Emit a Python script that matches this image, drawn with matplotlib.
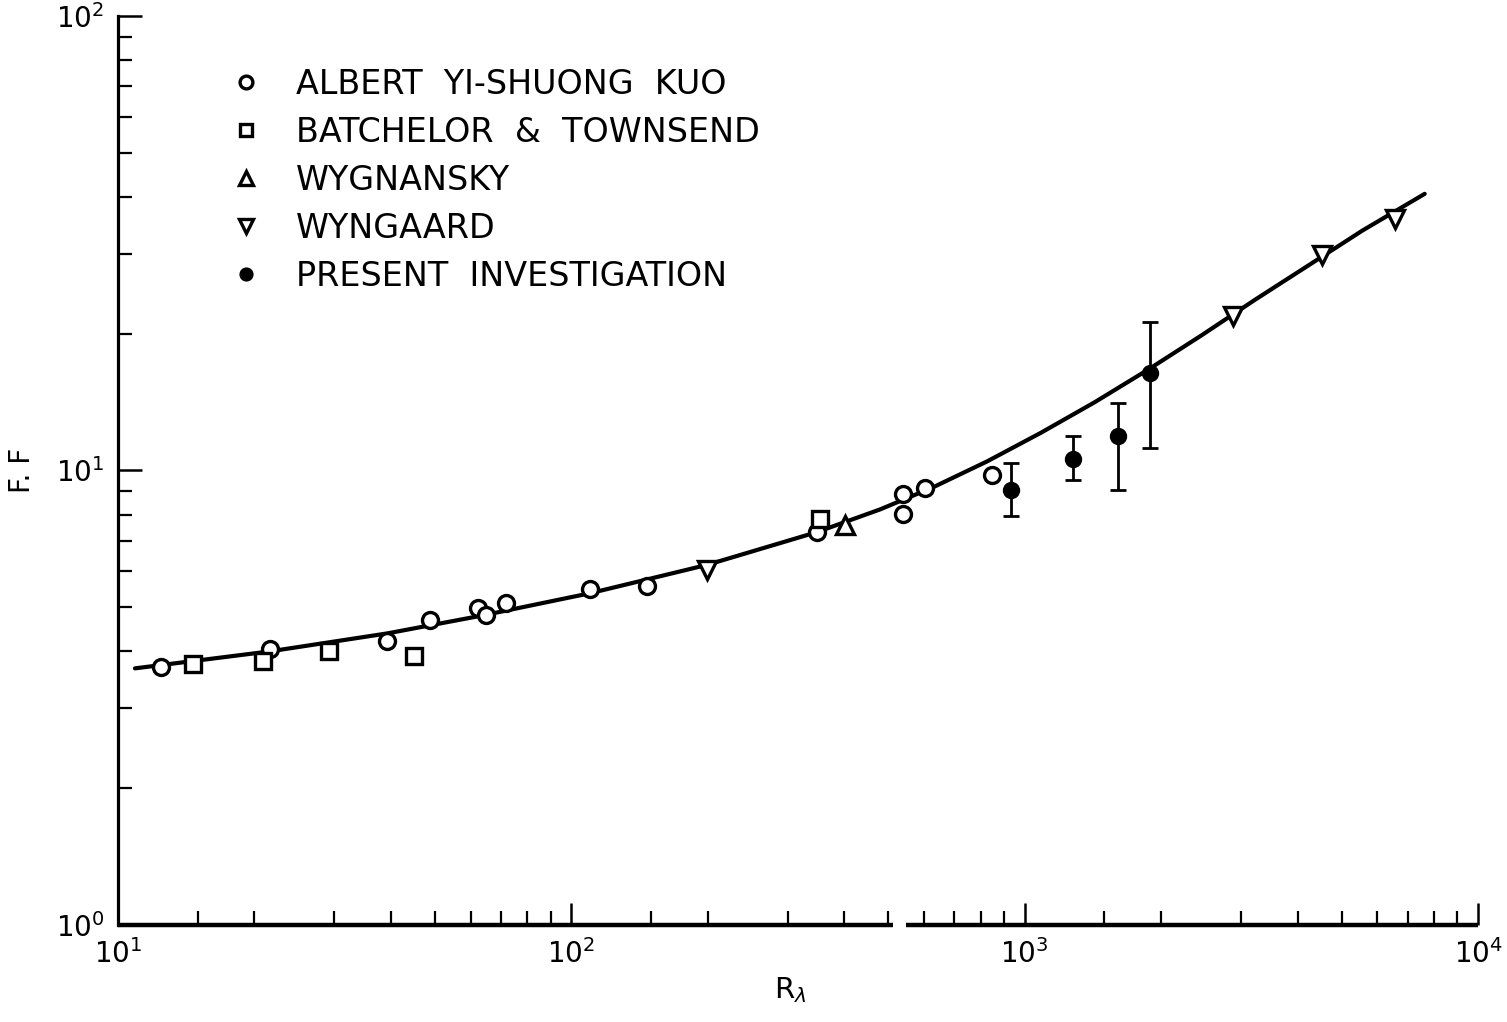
import matplotlib
matplotlib.use("Agg")
import matplotlib.pyplot as plt
from matplotlib.ticker import LogLocator, NullFormatter

# ---------------- data ----------------
kuo_x = [12.42, 21.64, 39.28, 48.79, 62.17, 64.85, 71.77, 110.0, 146.6, 347.8, 540, 540, 603, 846]
kuo_y = [3.70, 4.04, 4.21, 4.70, 4.98, 4.80, 5.11, 5.50, 5.56, 7.32, 8.89, 8.03, 9.16, 9.75]

bt_x = [14.62, 20.92, 29.25, 45.04, 353.7]
bt_y = [3.76, 3.80, 4.01, 3.90, 7.83]

wygnansky_x = [401.6]
wygnansky_y = [7.57]

wyngaard_x = [198.9, 2886, 4523, 6561]
wyngaard_y = [6.03, 21.91, 29.84, 35.74]

present_x = [931.7, 1281, 1609, 1890]
present_y = [9.04, 10.61, 11.88, 16.36]
present_lo = [7.96, 9.54, 9.07, 11.19]
present_hi = [10.38, 11.88, 14.09, 21.18]

curve_x = [10.90, 21.64, 39.22, 63.86, 110.0, 199.3, 348.3, 479.7, 630.1, 826.0,
           1085, 1425, 1872, 2455, 3224, 4232, 5551, 7628]
curve_y = [3.67, 4.00, 4.38, 4.80, 5.37, 6.20, 7.32, 8.21, 9.20, 10.47,
           12.10, 14.12, 16.67, 19.83, 23.76, 28.29, 33.69, 40.62]

labels = ["ALBERT  YI-SHUONG  KUO", "BATCHELOR  &  TOWNSEND", "WYGNANSKY",
          "WYNGAARD", "PRESENT  INVESTIGATION"]

x_limits = (10, 10000)
y_limits = (1, 100)
axis_gap = (512, 548)   # break in the bottom axis line

# ---------------- figure ----------------
plt.rcParams['font.family'] = ['DejaVu Sans']
plt.rcParams['mathtext.fontset'] = 'dejavusans'

W, H = 1507, 1022
L, R, B, T = 118, 1478, 925, 16
fig = plt.figure(figsize=(W / 100, H / 100), dpi=100)
ax = fig.add_axes([L / W, 1 - B / H, (R - L) / W, (B - T) / H])
ax.set_xscale('log')
ax.set_yscale('log')
ax.set_xlim(*x_limits)
ax.set_ylim(*y_limits)

ax.plot(curve_x, curve_y, color='black', lw=3.0, zorder=2,
        solid_capstyle='round', solid_joinstyle='round')

ms = 11.5
mew = 2.4
h1, = ax.plot(kuo_x, kuo_y, 'o', ms=ms, mfc='white', mec='black', mew=mew, ls='none', zorder=3)
h2, = ax.plot(bt_x, bt_y, 's', ms=ms - 0.5, mfc='white', mec='black', mew=mew, ls='none', zorder=3)
h3, = ax.plot(wygnansky_x, wygnansky_y, '^', ms=ms + 1.5, mfc='white', mec='black', mew=mew, ls='none', zorder=3)
h4, = ax.plot(wyngaard_x, wyngaard_y, 'v', ms=ms + 1.5, mfc='white', mec='black', mew=mew, ls='none', zorder=3)

yerr = [[p - l for p, l in zip(present_y, present_lo)],
        [h - p for p, h in zip(present_y, present_hi)]]
ax.errorbar(present_x, present_y, yerr=yerr, fmt='none', ecolor='black',
            elinewidth=2.0, capsize=6, capthick=2.0, zorder=3)
h5, = ax.plot(present_x, present_y, 'o', ms=ms, mfc='black', mec='black', ls='none', zorder=4)

leg = ax.legend([h1, h2, h3, h4, h5], labels, loc='upper left',
                bbox_to_anchor=(231 / W, 1 - 68 / H), bbox_transform=fig.transFigure,
                frameon=False, fontsize=24, handlelength=0.9, handletextpad=1.05,
                labelspacing=0.45, borderpad=0, borderaxespad=0, markerscale=0.8)

# ---------------- axes styling ----------------
for s in ['top', 'right', 'bottom']:
    ax.spines[s].set_visible(False)
ax.spines['left'].set_linewidth(2.3)

xt = ax.get_xaxis_transform()
ax.plot([x_limits[0], axis_gap[0]], [0, 0], transform=xt, color='black', lw=3.2,
        clip_on=False, solid_capstyle='butt', zorder=5)
ax.plot([axis_gap[1], x_limits[1]], [0, 0], transform=xt, color='black', lw=3.2,
        clip_on=False, solid_capstyle='butt', zorder=5)

ax.xaxis.set_major_locator(LogLocator(base=10, numticks=10))
ax.xaxis.set_minor_locator(LogLocator(base=10, subs=[1.5, 2, 3, 4, 5, 6, 7, 8, 9], numticks=20))
ax.yaxis.set_major_locator(LogLocator(base=10, numticks=10))
ax.yaxis.set_minor_locator(LogLocator(base=10, subs=[2, 3, 4, 5, 6, 7, 8, 9], numticks=20))
ax.xaxis.set_minor_formatter(NullFormatter())
ax.yaxis.set_minor_formatter(NullFormatter())

ax.tick_params(axis='both', which='major', direction='in', length=16, width=1.8,
               labelsize=20, pad=10)
ax.tick_params(axis='both', which='minor', direction='in', length=10, width=1.6)
ax.tick_params(axis='y', which='major', length=17)

ax.set_xlabel(r'R$_\lambda$', fontsize=21)
ax.xaxis.set_label_coords((790 - L) / (R - L), -(975 - B) / (B - T))
ax.xaxis.label.set_va('top')
ax.set_ylabel('F. F', fontsize=20)
ax.yaxis.label.set_va('center')
ax.yaxis.set_label_coords(-(L - 22) / (R - L), (B - 470) / (B - T))

fig.savefig('out.png', dpi=100)
